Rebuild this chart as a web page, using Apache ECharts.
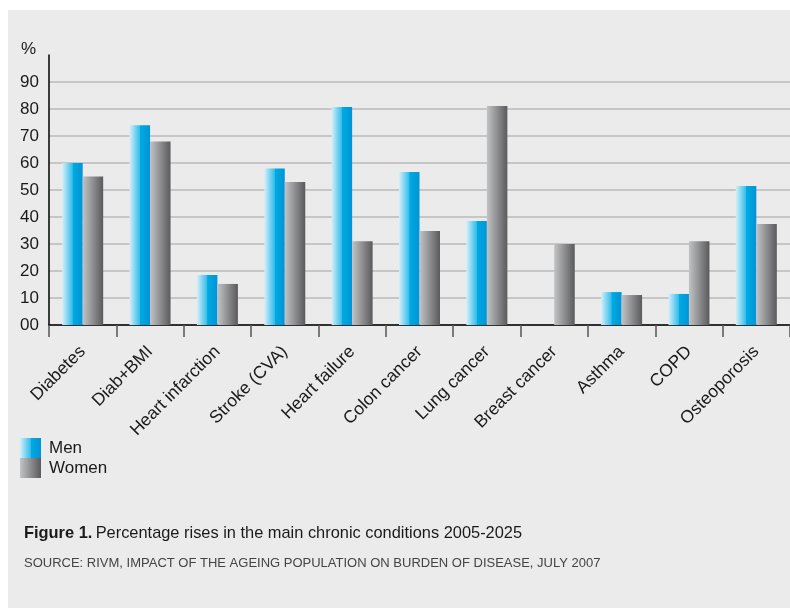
<!DOCTYPE html>
<html>
<head>
<meta charset="utf-8">
<script src="https://cdn.jsdelivr.net/npm/echarts@6/dist/echarts.min.js"></script>
<style>
html,body{margin:0;padding:0;background:#fff;}
#c{width:790px;height:608px;}
</style>
</head>
<body>
<div id="c"></div>
<script>
const categories = ['Diabetes','Diab+BMI','Heart infarction','Stroke (CVA)','Heart failure','Colon cancer','Lung cancer','Breast cancer','Asthma','COPD','Osteoporosis'];
const men   = [60, 74, 18.5, 58, 80.7, 56.7, 38.5, null, 12.2, 11.5, 51.5];
const women = [55, 68, 15.2, 53, 31, 34.8, 81.1, 30, 11.1, 31, 37.4];
const yTicks = ['00','10','20','30','40','50','60','70','80','90'];

const font = '"Liberation Sans", Arial, Helvetica, sans-serif';
const menGrad = {type:'linear',x:0,y:0,x2:1,y2:0,colorStops:[
  {offset:0,color:'#d4effa'},{offset:0.5,color:'#33bdea'},{offset:0.52,color:'#00aae2'},{offset:1,color:'#0094d6'}]};
const womenGrad = {type:'linear',x:0,y:0,x2:1,y2:0,colorStops:[
  {offset:0,color:'#c2c3c5'},{offset:1,color:'#5a5a5c'}]};

const chart = echarts.init(document.getElementById('c'), null, {renderer:'canvas'});
const gridColors = [];
for (let i=0;i<10;i++) gridColors.push('#bababa');
gridColors.push('rgba(0,0,0,0)');

chart.setOption({
  backgroundColor:'#ffffff',
  animation:false,
  textStyle:{fontFamily:font},
  graphic:[
    {type:'rect', z:-10, shape:{x:8,y:10,width:782,height:598}, style:{fill:'#ebebeb'}, silent:true},
    {type:'text', left:21, top:41, style:{text:'%', font:'17px '+font, fill:'#1a1a1a'}},
    {type:'text', left:24, top:525, style:{rich:{b:{fontWeight:'bold',fontSize:16.4,fontFamily:font,fill:'#1a1a1a'},n:{fontSize:16.4,fontFamily:font,fill:'#1a1a1a'}}, text:'{b|Figure 1.} {n|Percentage rises in the main chronic conditions 2005-2025}'}},
    {type:'text', left:24, top:557, style:{text:'SOURCE: RIVM, IMPACT OF THE AGEING POPULATION ON BURDEN OF DISEASE, JULY 2007', font:'13px '+font, fill:'#444'}}
  ],
  legend:{
    orient:'vertical', left:20, top:438, padding:0, itemWidth:21, itemHeight:20, itemGap:0,
    icon:'rect',
    textStyle:{fontSize:17, color:'#1a1a1a', fontFamily:font, padding:[0,0,0,3]},
    data:['Men','Women']
  },
  grid:{left:49, right:0, top:55, bottom:283, containLabel:false},
  xAxis:{
    type:'category', data:categories,
    axisLine:{lineStyle:{color:'#000', width:1.5}},
    axisTick:{show:true, length:12, interval:0, lineStyle:{color:'#555', width:1.5}},
    axisLabel:{rotate:45, interval:0, fontSize:17.5, color:'#1a1a1a', margin:24, fontFamily:font}
  },
  yAxis:{
    type:'value', min:0, max:100, interval:10,
    axisLine:{show:true, lineStyle:{color:'#000', width:1.5}},
    axisTick:{show:false},
    splitLine:{lineStyle:{color:gridColors, width:1.5}},
    axisLabel:{align:'left', margin:29, fontSize:17, color:'#1a1a1a', fontFamily:font,
      formatter:function(v){ const i=Math.round(v/10); return i<yTicks.length ? yTicks[i] : ''; }}
  },
  series:[
    {name:'Men', type:'bar', data:men, barWidth:20.5, barGap:'0%', itemStyle:{color:menGrad}},
    {name:'Women', type:'bar', data:women, barWidth:20.5, barGap:'0%', itemStyle:{color:womenGrad}}
  ]
});
</script>
</body>
</html>
